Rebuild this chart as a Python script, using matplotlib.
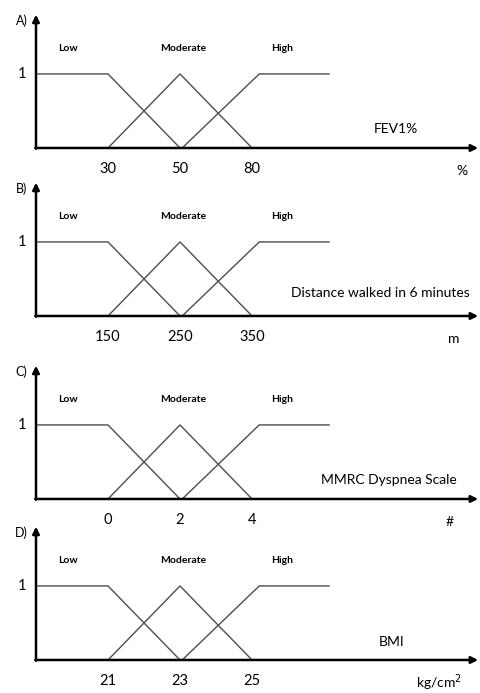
import matplotlib.pyplot as plt

plt.rcParams['font.family'] = ['Lato', 'DejaVu Sans']

panel_tags = ["A)", "B)", "C)", "D)"]
variables = ["FEV1%", "Distance walked in 6 minutes", "MMRC Dyspnea Scale", "BMI"]
units = ["%", "m", "#", "kg/cm$^2$"]
tick_labels = [["30", "50", "80"],
               ["150", "250", "350"],
               ["0", "2", "4"],
               ["21", "23", "25"]]
set_names = ["Low", "Moderate", "High"]

# membership breakpoints, x given in tick positions (1, 2, 3 = the three labelled values)
low_x, low_y = [0, 1, 2], [1, 1, 0]
mod_x, mod_y = [1, 2, 3], [0, 1, 0]
high_x, high_y = [2.03, 3.1, 4.07], [0, 1, 1]

# pixel row of the x axis in each panel
axis_rows = [148, 316, 499, 660]
var_pos = [(5.0, 0.26), (4.78, 0.31), (4.9, 0.26), (4.94, 0.24)]
unit_x = [5.92, 5.8, 5.75, 5.6]

W, H = 481, 693
fig = plt.figure(figsize=(W / 100, H / 100), dpi=100)

for i in range(4):
    bottom = axis_rows[i] + 0.45 * 74
    ax = fig.add_axes([0, (H - bottom) / H, 1, 174 / H])
    ax.set_xlim(-0.5, 6.18)
    ax.set_ylim(-0.45, 1.9)
    ax.axis('off')
    ax.patch.set_alpha(0)

    for xs, ys in [(low_x, low_y), (mod_x, mod_y), (high_x, high_y)]:
        ax.plot(xs, ys, color='#4d4d4d', lw=1.0, solid_joinstyle='miter')

    # axes with arrows
    ax.annotate("", xy=(6.14, 0), xytext=(-0.01, 0),
                arrowprops=dict(arrowstyle='-|>', lw=1.8, color='black',
                                mutation_scale=10, shrinkA=0, shrinkB=0))
    ax.annotate("", xy=(0, 1.8), xytext=(0, -0.01),
                arrowprops=dict(arrowstyle='-|>', lw=1.8, color='black',
                                mutation_scale=10, shrinkA=0, shrinkB=0))

    ax.text(-0.2, 1.72, panel_tags[i], fontsize=9, ha='center', va='center')
    ax.text(-0.2, 1.0, "1", fontsize=10.5, ha='center', va='center')

    for x, name in zip([0.45, 2.04, 3.42], set_names):
        ax.text(x, 1.34, name, fontsize=7.5, fontweight='bold', ha='center', va='center')

    for k, lab in enumerate(tick_labels[i]):
        ax.text(k + 1, -0.28, lab, fontsize=10.5, ha='center', va='center')

    ax.text(var_pos[i][0], var_pos[i][1], variables[i], fontsize=10,
            ha='center', va='center')
    ax.text(unit_x[i], -0.31, units[i], fontsize=10, ha='center', va='center')

fig.savefig("out.png", dpi=100)
